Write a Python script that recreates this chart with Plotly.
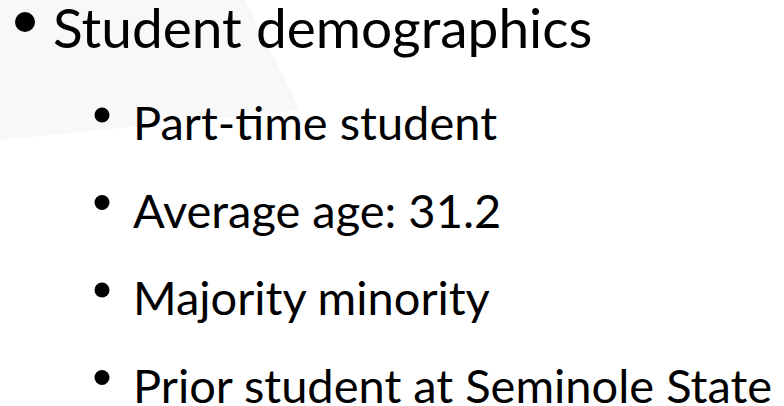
import plotly.graph_objects as go

# Slide content
title_text = "Student demographics"
bullet_items = [
    "Part-time student",
    "Average age: 31.2",
    "Majority minority",
    "Prior student at Seminole State",
]

W, H = 784, 406
FONT = "Lato, 'Liberation Sans', Arial, sans-serif"

fig = go.Figure()

title_y = 27
item_y0 = 122
item_dy = 87.5
item_ys = [item_y0 + i * item_dy for i in range(len(bullet_items))]

# bullet dots (level 1 and level 2)
fig.add_trace(go.Scatter(
    x=[25], y=[22], mode="markers",
    marker=dict(size=20, color="black", line=dict(width=0)),
    hoverinfo="skip", showlegend=False))
fig.add_trace(go.Scatter(
    x=[102] * len(bullet_items), y=[y - 7 for y in item_ys], mode="markers",
    marker=dict(size=15, color="black", line=dict(width=0)),
    hoverinfo="skip", showlegend=False))

annotations = [dict(
    x=51, y=title_y, xref="x", yref="y", text=title_text, showarrow=False,
    xanchor="left", yanchor="middle",
    font=dict(family=FONT, size=55, color="black"))]
for txt, y in zip(bullet_items, item_ys):
    annotations.append(dict(
        x=131, y=y, xref="x", yref="y", text=txt, showarrow=False,
        xanchor="left", yanchor="middle",
        font=dict(family=FONT, size=47, color="black")))

shapes = [dict(
    type="path", xref="x", yref="y", layer="below",
    path="M 0 0 L 245 0 L 300 110 L 0 140 Z",
    fillcolor="#f8f8f8", line=dict(width=0))]

fig.update_layout(
    width=W, height=H,
    margin=dict(l=0, r=0, t=0, b=0),
    paper_bgcolor="white", plot_bgcolor="rgba(0,0,0,0)",
    xaxis=dict(range=[0, W], visible=False, fixedrange=True),
    yaxis=dict(range=[H, 0], visible=False, fixedrange=True),
    annotations=annotations, shapes=shapes,
)

fig.write_html("out.html", config={"displayModeBar": False},
               post_script="document.body.style.margin='0px';")
